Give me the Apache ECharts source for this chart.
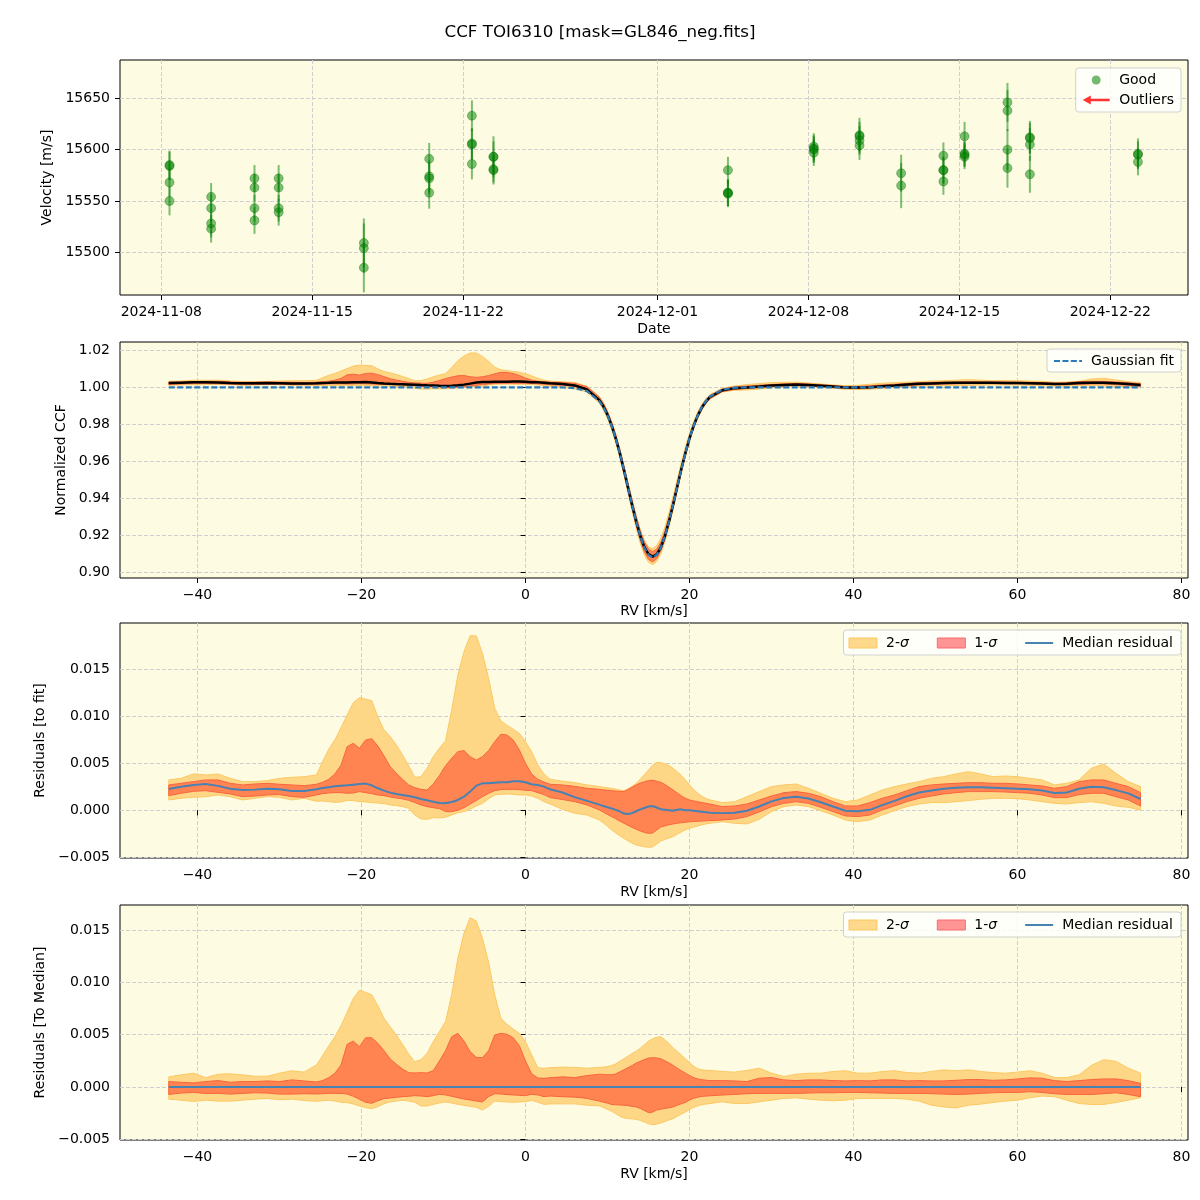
<!DOCTYPE html>
<html><head><meta charset="utf-8">
<script src="https://cdn.jsdelivr.net/npm/echarts@6/dist/echarts.min.js"></script>
<style>html,body{margin:0;padding:0;background:#fff}#chart{width:1200px;height:1200px}</style>
</head><body><div id="chart"></div>
<script>
// ---------- Panel 1: RV time series ----------
const obsTime = [
 '2024-11-08T09:07','2024-11-08T09:07','2024-11-08T09:07','2024-11-08T09:07',
 '2024-11-10T07:26','2024-11-10T07:26','2024-11-10T07:26','2024-11-10T07:26',
 '2024-11-12T07:41','2024-11-12T07:41','2024-11-12T07:41','2024-11-12T07:41',
 '2024-11-13T10:34','2024-11-13T10:34','2024-11-13T10:34','2024-11-13T10:34',
 '2024-11-17T09:22','2024-11-17T09:22','2024-11-17T09:22',
 '2024-11-20T10:05','2024-11-20T10:05','2024-11-20T10:05','2024-11-20T10:05',
 '2024-11-22T09:36','2024-11-22T09:36','2024-11-22T09:36','2024-11-22T09:36',
 '2024-11-23T09:36','2024-11-23T09:36','2024-11-23T09:36','2024-11-23T09:36',
 '2024-12-04T06:29','2024-12-04T06:29','2024-12-04T06:29','2024-12-04T06:29',
 '2024-12-08T06:00','2024-12-08T06:00','2024-12-08T06:00','2024-12-08T06:00',
 '2024-12-10T08:53','2024-12-10T08:53','2024-12-10T08:53','2024-12-10T08:53',
 '2024-12-12T07:12','2024-12-12T07:12',
 '2024-12-14T06:14','2024-12-14T06:14','2024-12-14T06:14','2024-12-14T06:14',
 '2024-12-15T05:46','2024-12-15T05:46','2024-12-15T05:46','2024-12-15T05:46',
 '2024-12-17T05:31','2024-12-17T05:31','2024-12-17T05:31','2024-12-17T05:31',
 '2024-12-18T06:29','2024-12-18T06:29','2024-12-18T06:29','2024-12-18T06:29',
 '2024-12-23T06:43','2024-12-23T06:43','2024-12-23T06:43'
];
const obsVel = [
 15585,15584,15568,15550,
 15554,15543,15528,15523,
 15572,15563,15543,15531,
 15572,15563,15543,15539,
 15509,15504,15485,
 15591,15574,15572,15558,
 15633,15606,15605,15586,
 15593,15593,15581,15580,
 15580,15558,15558,15557,
 15603,15601,15600,15597,
 15614,15613,15609,15604,
 15577,15565,
 15594,15580,15580,15569,
 15613,15596,15595,15593,
 15646,15638,15600,15582,
 15612,15611,15605,15576,
 15596,15595,15588
];
const obsErr = [
 14,14,14,14,
 13.5,13.5,13.5,13.5,
 13,13,13,13,
 13,13,13,13,
 24,24,24,
 15.5,15.5,15.5,15.5,
 15,15,15,15,
 20,15,13,14,
 13,13,13,13,
 13,13,13,13,
 17,14,14,14,
 18,22,
 13,13,13,13,
 14,12,12,12,
 19,20,20,19,
 16,15,16,18,
 15,13,13
];
const dateTicks = ['2024-11-08','2024-11-15','2024-11-22','2024-12-01','2024-12-08','2024-12-15','2024-12-22'];
const velTicks = [15500,15550,15600,15650];

// ---------- CCF panels ----------
const rvTicks = [-40,-20,0,20,40,60,80];
const ccfTicks = [0.90,0.92,0.94,0.96,0.98,1.00,1.02];
const resTicks = [-0.005,0,0.005,0.010,0.015];

const rv = [
 -43.5,-42,-40.5,-39,-37.5,-36,-34.5,-33,-31.5,-30,-28.5,-27,
 -25.5,-24.75,-24,-23.25,-22.5,-21.75,-21,-20.25,-19.5,-18.75,-18,-17.25,-16.5,-15.75,-15,-14.25,-13.5,-12.75,-12,-11.25,-10.5,-9.75,-9,-8.25,-7.5,-6.75,-6,-5.25,-4.5,-3.75,-3,-2.25,-1.5,-0.75,0,0.75,1.5,2.25,3,
 4.5,6,7.5,
 9,9.5,10,10.5,11,11.5,12,12.5,13,13.5,14,14.5,15,15.5,16,16.5,17,17.5,18,18.5,19,19.5,20,20.5,21,21.5,22,22.5,
 24,25.5,27,28.5,30,31.5,33,34.5,36,37.5,
 39,40.5,42,43.5,45,46.5,48,49.5,51,52.5,
 54,55.5,57,58.5,60,61.5,63,64.5,66,67.5,
 69,70.5,72,73.5,75
];
const gaussFit = [
 1,1,1,1,1,1,1,1,1,1,1,1,
 1,1,1,1,1,1,1,1,1,1,1,1,1,1,1,1,1,1,1,1,1,1,1,1,1,1,1,1,1,1,1,1,1,1,1,1,1,1,1,
 0.9999,0.9996,0.9979,
 0.9925,0.9892,0.9848,0.9792,0.9724,0.9645,0.9556,0.9461,0.9366,0.9275,0.9195,0.9133,0.9094,0.9080,0.9094,0.9133,0.9195,0.9275,0.9366,0.9461,0.9556,0.9645,0.9724,0.9792,0.9848,0.9892,0.9925,0.9950,
 0.9987,0.9998,1,1,1,1,1,1,1,1,
 1,1,1,1,1,1,1,1,1,1,
 1,1,1,1,1,1,1,1,1,1,
 1,1,1,1,1
];
// residuals to Gaussian fit
const resMedian = [
 0.00227,0.00250,0.00270,0.00280,0.00260,0.00230,0.00215,0.00220,0.00230,0.00225,0.00205,0.00205,
 0.00223,0.00238,0.00245,0.00255,0.00262,0.00266,0.00273,0.00280,0.00284,0.00266,0.00234,0.00209,0.00188,0.00174,0.00163,0.00152,0.00138,0.00121,0.00106,0.00092,0.00078,0.00074,0.00089,0.00110,0.00145,0.00199,0.00262,0.00287,0.00287,0.00294,0.00298,0.00298,0.00309,0.00309,0.00298,0.00277,0.00270,0.00252,0.00223,
 0.00190,0.00140,0.00100,
 0.00060,0.00045,0.00032,0.00020,0.00005,-0.00010,-0.00035,-0.00040,-0.00030,-0.00010,0.00010,0.00025,0.00040,0.00045,0.00030,0.00010,0.00005,0.00000,-0.00005,0.00005,0.00010,0.00000,0.00000,-0.00005,-0.00010,-0.00015,-0.00020,-0.00025,
 -0.00030,-0.00025,-0.00005,0.00040,0.00095,0.00130,0.00145,0.00125,0.00085,0.00040,
 -0.00005,-0.00010,0.00005,0.00055,0.00100,0.00150,0.00190,0.00210,0.00230,0.00240,
 0.00245,0.00245,0.00240,0.00235,0.00230,0.00225,0.00210,0.00185,0.00190,0.00230,
 0.00250,0.00245,0.00215,0.00180,0.00120
];
const res1Lo = [
 0.00156,0.00181,0.00202,0.00209,0.00191,0.00174,0.00145,0.00152,0.00163,0.00167,0.00145,0.00138,
 0.00163,0.00177,0.00184,0.00188,0.00188,0.00181,0.00184,0.00199,0.00188,0.00177,0.00163,0.00156,0.00142,0.00131,0.00121,0.00106,0.00082,0.00057,0.00039,0.00028,0.00018,-0.00014,-0.00014,0.00000,0.00028,0.00067,0.00103,0.00145,0.00181,0.00209,0.00220,0.00223,0.00223,0.00220,0.00213,0.00209,0.00188,0.00167,0.00135,
 0.00115,0.00092,0.00057,
 0.00004,-0.00020,-0.00045,-0.00067,-0.00090,-0.00115,-0.00138,-0.00160,-0.00182,-0.00202,-0.00220,-0.00235,-0.00245,-0.00242,-0.00210,-0.00177,-0.00165,-0.00155,-0.00145,-0.00138,-0.00132,-0.00128,-0.00122,-0.00119,-0.00117,-0.00114,-0.00112,-0.00110,
 -0.00103,-0.00092,-0.00067,-0.00018,0.00039,0.00074,0.00092,0.00074,0.00032,-0.00014,
 -0.00060,-0.00067,-0.00050,0.00004,0.00046,0.00092,0.00128,0.00152,0.00174,0.00188,
 0.00199,0.00199,0.00199,0.00195,0.00188,0.00181,0.00163,0.00135,0.00135,0.00167,
 0.00181,0.00181,0.00145,0.00110,0.00046
];
const res1Hi = [
 0.00270,0.00287,0.00305,0.00323,0.00323,0.00287,0.00270,0.00280,0.00287,0.00277,0.00270,0.00262,
 0.00277,0.00298,0.00330,0.00387,0.00479,0.00677,0.00713,0.00660,0.00748,0.00762,0.00684,0.00578,0.00465,0.00394,0.00330,0.00270,0.00241,0.00223,0.00216,0.00280,0.00369,0.00475,0.00553,0.00624,0.00635,0.00571,0.00535,0.00571,0.00635,0.00730,0.00809,0.00801,0.00748,0.00642,0.00500,0.00387,0.00330,0.00301,0.00277,
 0.00270,0.00255,0.00234,
 0.00223,0.00218,0.00213,0.00209,0.00205,0.00202,0.00199,0.00220,0.00245,0.00270,0.00290,0.00305,0.00316,0.00320,0.00310,0.00298,0.00275,0.00245,0.00216,0.00185,0.00155,0.00128,0.00110,0.00100,0.00092,0.00082,0.00075,0.00067,
 0.00039,0.00046,0.00067,0.00110,0.00152,0.00188,0.00199,0.00181,0.00145,0.00092,
 0.00046,0.00046,0.00082,0.00128,0.00163,0.00209,0.00252,0.00270,0.00280,0.00287,
 0.00294,0.00294,0.00287,0.00287,0.00280,0.00270,0.00259,0.00234,0.00252,0.00305,
 0.00323,0.00323,0.00287,0.00252,0.00188
];
const res2Lo = [
 0.00110,0.00128,0.00138,0.00145,0.00163,0.00145,0.00110,0.00128,0.00145,0.00138,0.00110,0.00128,
 0.00096,0.00099,0.00092,0.00085,0.00089,0.00106,0.00103,0.00092,0.00089,0.00082,0.00078,0.00071,0.00057,0.00050,0.00039,0.00021,-0.00050,-0.00092,-0.00096,-0.00078,-0.00082,-0.00074,-0.00050,-0.00025,-0.00014,0.00011,0.00046,0.00074,0.00121,0.00163,0.00170,0.00174,0.00170,0.00163,0.00163,0.00152,0.00128,0.00092,0.00067,
 0.00010,-0.00032,-0.00050,
 -0.00103,-0.00135,-0.00170,-0.00209,-0.00240,-0.00270,-0.00298,-0.00325,-0.00350,-0.00369,-0.00380,-0.00388,-0.00394,-0.00390,-0.00360,-0.00326,-0.00310,-0.00295,-0.00280,-0.00255,-0.00230,-0.00209,-0.00191,-0.00180,-0.00167,-0.00155,-0.00145,-0.00138,
 -0.00121,-0.00138,-0.00145,-0.00096,-0.00014,0.00039,0.00057,0.00039,-0.00004,-0.00050,
 -0.00103,-0.00121,-0.00103,-0.00050,-0.00004,0.00039,0.00067,0.00082,0.00082,0.00092,
 0.00103,0.00117,0.00128,0.00128,0.00124,0.00110,0.00092,0.00074,0.00067,0.00082,
 0.00092,0.00074,0.00046,0.00032,0.00004
];
const res2Hi = [
 0.00323,0.00340,0.00387,0.00376,0.00387,0.00340,0.00305,0.00305,0.00316,0.00340,0.00351,0.00358,
 0.00376,0.00518,0.00649,0.00748,0.00879,0.01014,0.01145,0.01199,0.01181,0.01167,0.00993,0.00855,0.00784,0.00695,0.00589,0.00475,0.00351,0.00358,0.00447,0.00571,0.00660,0.00741,0.01067,0.01440,0.01688,0.01858,0.01855,0.01670,0.01404,0.01085,0.00950,0.00904,0.00862,0.00819,0.00730,0.00624,0.00482,0.00387,0.00330,
 0.00310,0.00295,0.00270,
 0.00252,0.00245,0.00240,0.00234,0.00225,0.00215,0.00209,0.00230,0.00255,0.00287,0.00330,0.00380,0.00429,0.00480,0.00510,0.00507,0.00495,0.00475,0.00447,0.00410,0.00370,0.00323,0.00270,0.00225,0.00181,0.00150,0.00125,0.00110,
 0.00082,0.00092,0.00145,0.00199,0.00252,0.00270,0.00280,0.00234,0.00181,0.00128,
 0.00092,0.00110,0.00163,0.00216,0.00252,0.00280,0.00305,0.00340,0.00358,0.00387,
 0.00411,0.00387,0.00358,0.00365,0.00358,0.00340,0.00323,0.00270,0.00287,0.00323,
 0.00447,0.00493,0.00394,0.00305,0.00252
];
// residuals to median CCF
const medMedian = [
 0,0,0,0,0,0,0,0,0,0,0,0,
 0,0,0,0,0,0,0,0,0,0,0,0,0,0,0,0,0,0,0,0,0,0,0,0,0,0,0,0,0,0,0,0,0,0,0,0,0,0,0,
 0,0,0,
 0,0,0,0,0,0,0,0,0,0,0,0,0,0,0,0,0,0,0,0,0,0,0,0,0,0,0,0,
 0,0,0,0,0,0,0,0,0,0, 0,0,0,0,0,0,0,0,0,0, 0,0,0,0,0,0,0,0,0,0, 0,0,0,0,0
];
const med1Lo = [
 -0.00071,-0.00058,-0.00052,-0.00061,-0.00061,-0.00068,-0.00061,-0.00055,-0.00058,-0.00068,-0.00068,-0.00064,
 -0.00067,-0.00064,-0.00061,-0.00061,-0.00061,-0.00067,-0.00089,-0.00118,-0.00146,-0.00156,-0.00131,-0.00111,-0.00105,-0.00099,-0.00092,-0.00089,-0.00083,-0.00086,-0.00092,-0.00083,-0.00070,-0.00076,-0.00089,-0.00102,-0.00115,-0.00124,-0.00134,-0.00143,-0.00092,-0.00064,-0.00067,-0.00073,-0.00076,-0.00080,-0.00083,-0.00070,-0.00076,-0.00092,-0.00086,
 -0.00093,-0.00097,-0.00109,
 -0.00135,-0.00145,-0.00155,-0.00167,-0.00170,-0.00172,-0.00174,-0.00178,-0.00185,-0.00190,-0.00205,-0.00225,-0.00245,-0.00240,-0.00220,-0.00212,-0.00205,-0.00198,-0.00190,-0.00175,-0.00160,-0.00148,-0.00125,-0.00108,-0.00097,-0.00090,-0.00087,-0.00084,
 -0.00077,-0.00071,-0.00064,-0.00061,-0.00061,-0.00061,-0.00061,-0.00058,-0.00055,-0.00055,
 -0.00052,-0.00052,-0.00055,-0.00058,-0.00061,-0.00061,-0.00061,-0.00064,-0.00068,-0.00071,
 -0.00068,-0.00061,-0.00055,-0.00052,-0.00052,-0.00045,-0.00052,-0.00064,-0.00071,-0.00071,
 -0.00071,-0.00064,-0.00055,-0.00071,-0.00093
];
const med1Hi = [
 0.00052,0.00045,0.00039,0.00052,0.00061,0.00045,0.00052,0.00052,0.00058,0.00052,0.00068,0.00058,
 0.00048,0.00061,0.00089,0.00131,0.00210,0.00408,0.00439,0.00385,0.00471,0.00471,0.00417,0.00347,0.00268,0.00217,0.00172,0.00137,0.00134,0.00137,0.00134,0.00156,0.00248,0.00347,0.00481,0.00513,0.00439,0.00338,0.00283,0.00280,0.00347,0.00497,0.00513,0.00503,0.00471,0.00395,0.00248,0.00127,0.00086,0.00083,0.00089,
 0.00097,0.00090,0.00109,
 0.00122,0.00120,0.00118,0.00116,0.00125,0.00145,0.00164,0.00185,0.00205,0.00229,0.00245,0.00262,0.00277,0.00280,0.00278,0.00270,0.00250,0.00230,0.00206,0.00180,0.00155,0.00132,0.00110,0.00090,0.00077,0.00070,0.00065,0.00061,
 0.00061,0.00058,0.00052,0.00084,0.00090,0.00068,0.00061,0.00068,0.00068,0.00061,
 0.00058,0.00061,0.00058,0.00068,0.00068,0.00058,0.00061,0.00058,0.00058,0.00064,
 0.00071,0.00071,0.00064,0.00068,0.00077,0.00087,0.00084,0.00061,0.00052,0.00061,
 0.00071,0.00077,0.00077,0.00061,0.00035
];
const med2Lo = [
 -0.00116,-0.00126,-0.00138,-0.00126,-0.00135,-0.00135,-0.00126,-0.00116,-0.00109,-0.00122,-0.00116,-0.00129,
 -0.00137,-0.00131,-0.00127,-0.00134,-0.00146,-0.00150,-0.00162,-0.00182,-0.00197,-0.00207,-0.00188,-0.00159,-0.00143,-0.00134,-0.00127,-0.00134,-0.00146,-0.00182,-0.00182,-0.00166,-0.00153,-0.00143,-0.00153,-0.00166,-0.00175,-0.00185,-0.00194,-0.00220,-0.00185,-0.00134,-0.00140,-0.00143,-0.00146,-0.00143,-0.00140,-0.00127,-0.00146,-0.00166,-0.00162,
 -0.00161,-0.00161,-0.00174,
 -0.00180,-0.00195,-0.00215,-0.00232,-0.00255,-0.00280,-0.00296,-0.00300,-0.00305,-0.00309,-0.00320,-0.00335,-0.00351,-0.00360,-0.00355,-0.00344,-0.00330,-0.00315,-0.00303,-0.00280,-0.00260,-0.00238,-0.00215,-0.00195,-0.00180,-0.00170,-0.00163,-0.00158,
 -0.00142,-0.00158,-0.00158,-0.00142,-0.00126,-0.00109,-0.00103,-0.00116,-0.00126,-0.00132,
 -0.00126,-0.00109,-0.00109,-0.00109,-0.00109,-0.00116,-0.00135,-0.00174,-0.00190,-0.00200,
 -0.00174,-0.00164,-0.00148,-0.00135,-0.00126,-0.00103,-0.00087,-0.00093,-0.00126,-0.00158,
 -0.00167,-0.00167,-0.00148,-0.00126,-0.00103
];
const med2Hi = [
 0.00097,0.00116,0.00132,0.00090,0.00122,0.00126,0.00116,0.00103,0.00103,0.00132,0.00155,0.00142,
 0.00210,0.00299,0.00392,0.00481,0.00586,0.00713,0.00847,0.00924,0.00904,0.00882,0.00777,0.00656,0.00576,0.00497,0.00408,0.00315,0.00242,0.00261,0.00322,0.00433,0.00529,0.00624,0.00885,0.01229,0.01468,0.01618,0.01586,0.01420,0.01191,0.00879,0.00656,0.00599,0.00554,0.00513,0.00433,0.00306,0.00185,0.00178,0.00185,
 0.00190,0.00187,0.00180,
 0.00187,0.00190,0.00195,0.00206,0.00220,0.00245,0.00270,0.00295,0.00320,0.00341,0.00370,0.00405,0.00438,0.00460,0.00475,0.00480,0.00450,0.00415,0.00373,0.00340,0.00305,0.00270,0.00230,0.00200,0.00174,0.00165,0.00160,0.00158,
 0.00148,0.00142,0.00158,0.00180,0.00132,0.00100,0.00122,0.00132,0.00132,0.00148,
 0.00155,0.00132,0.00132,0.00148,0.00155,0.00138,0.00132,0.00148,0.00164,0.00155,
 0.00164,0.00148,0.00138,0.00132,0.00142,0.00155,0.00132,0.00090,0.00090,0.00116,
 0.00206,0.00261,0.00245,0.00180,0.00132
];

// ---------- styles ----------
const FONT = 'DejaVu Sans';
const BG = '#fdfce2';
const GRIDLINE = {show:true, lineStyle:{color:'#cfcfcf', width:1, type:[4,2]}};
const C2_FILL = '#fed786', C2_EDGE = '#fdc862';
const C1_FILL = '#ff8452', C1_EDGE = '#f8653f';
const MED_COLOR = '#4682b4';
const FIT_COLOR = '#2b7bba';

const toMs = s => Date.parse(s + ':00Z');
const dayMs = s => Date.parse(s + 'T00:00:00Z');
const pad = n => (n < 10 ? '0' : '') + n;
const fmtDate = v => { const d = new Date(v); return d.getUTCFullYear() + '-' + pad(d.getUTCMonth() + 1) + '-' + pad(d.getUTCDate()); };
const minus = s => String(s).replace('-', '\u2212');

function axisBase(gridIndex, ticks, formatter, name, nameGap, min, max) {
  return {
    type: 'value', gridIndex, min, max, scale: true,
    name, nameLocation: 'middle', nameGap,
    nameTextStyle: {fontFamily: FONT, fontSize: 14, color: '#000'},
    axisLine: {show: false},
    axisTick: {show: true, length: 5, inside: false, customValues: ticks, lineStyle: {color: '#000', width: 1}},
    axisLabel: {customValues: ticks, formatter, fontFamily: FONT, fontSize: 14, color: '#000', margin: 10},
    splitLine: Object.assign({}, GRIDLINE),
  };
}

const dateTickMs = dateTicks.map(dayMs);
const xAxes = [
  axisBase(0, dateTickMs, fmtDate, 'Date', 27, toMs('2024-11-06T02:02'), toMs('2024-12-25T14:24')),
  axisBase(1, rvTicks, v => minus(v), 'RV [km/s]', 26, -49.45, 80.79),
  axisBase(2, rvTicks, v => minus(v), 'RV [km/s]', 27, -49.45, 80.79),
  axisBase(3, rvTicks, v => minus(v), 'RV [km/s]', 27, -49.45, 80.79),
];
const yAxes = [
  axisBase(0, velTicks, v => String(v), 'Velocity [m/s]', 59, 15458.4, 15687.3),
  axisBase(1, ccfTicks, v => v.toFixed(2), 'Normalized CCF', 46, 0.89692, 1.02449),
  axisBase(2, resTicks, v => minus(v.toFixed(3)), 'Residuals [to fit]', 66, -0.005074, 0.019926),
  axisBase(3, resTicks, v => minus(v.toFixed(3)), 'Residuals [To Median]', 66, -0.005064, 0.017388),
];

function band(name, idx, lo, hi, fill, stroke, z) {
  return {
    type: 'custom', name, xAxisIndex: idx, yAxisIndex: idx, z, silent: true,
    itemStyle: {color: fill},
    data: [[rv[0], lo[0]]],
    renderItem: (params, api) => {
      const pts = [];
      for (let i = 0; i < rv.length; i++) pts.push(api.coord([rv[i], hi[i]]));
      for (let i = rv.length - 1; i >= 0; i--) pts.push(api.coord([rv[i], lo[i]]));
      return {type: 'polygon', shape: {points: pts}, style: {fill, stroke, lineWidth: 1}};
    }
  };
}
function line(name, idx, ys, color, width, type, z) {
  return {
    type: 'line', name, xAxisIndex: idx, yAxisIndex: idx, z, silent: true,
    symbol: 'none', showSymbol: false,
    data: rv.map((x, i) => [x, ys[i]]),
    lineStyle: {color, width, type},
    itemStyle: {color},
  };
}

const ccfMedian = rv.map((x, i) => gaussFit[i] + resMedian[i]);
const ccf1Lo = rv.map((x, i) => gaussFit[i] + res1Lo[i]);
const ccf1Hi = rv.map((x, i) => gaussFit[i] + res1Hi[i]);
const ccf2Lo = rv.map((x, i) => gaussFit[i] + res2Lo[i]);
const ccf2Hi = rv.map((x, i) => gaussFit[i] + res2Hi[i]);

const series = [
  {
    type: 'custom', name: 'errbars', xAxisIndex: 0, yAxisIndex: 0, z: 2, silent: true, clip: true,
    data: obsTime.map((t, i) => [toMs(t), obsVel[i], obsErr[i]]),
    encode: {x: 0, y: 1},
    renderItem: (params, api) => {
      const x = api.value(0), v = api.value(1), e = api.value(2);
      const p1 = api.coord([x, v - e]), p2 = api.coord([x, v + e]);
      return {type: 'line', shape: {x1: p1[0], y1: p1[1], x2: p2[0], y2: p2[1]},
              style: {stroke: 'rgba(0,128,0,0.5)', lineWidth: 2}};
    }
  },
  {
    type: 'scatter', name: 'Good', xAxisIndex: 0, yAxisIndex: 0, z: 3, silent: true,
    symbol: 'circle', symbolSize: 9,
    data: obsTime.map((t, i) => [toMs(t), obsVel[i]]),
    itemStyle: {color: 'rgba(0,128,0,0.5)', borderColor: 'rgba(0,110,0,0.35)', borderWidth: 1, opacity: 1},
  },
  {type: 'scatter', name: 'Outliers', xAxisIndex: 0, yAxisIndex: 0, data: [], itemStyle: {color: '#ff0000'}},

  band('ccf2', 1, ccf2Lo, ccf2Hi, C2_FILL, C2_EDGE, 2),
  band('ccf1', 1, ccf1Lo, ccf1Hi, C1_FILL, C1_EDGE, 3),
  line('Median CCF', 1, ccfMedian, '#000000', 2.5, 'solid', 4),
  line('Gaussian fit', 1, gaussFit, FIT_COLOR, 2.2, [6, 2.5], 5),

  band('2-σ', 2, res2Lo, res2Hi, C2_FILL, C2_EDGE, 2),
  band('1-σ', 2, res1Lo, res1Hi, C1_FILL, C1_EDGE, 3),
  line('Median residual', 2, resMedian, MED_COLOR, 2, 'solid', 4),

  band('2-σ', 3, med2Lo, med2Hi, C2_FILL, C2_EDGE, 2),
  band('1-σ', 3, med1Lo, med1Hi, C1_FILL, C1_EDGE, 3),
  line('Median residual', 3, medMedian, MED_COLOR, 2, 'solid', 4),
];

const ICON_LINE = 'path://M0,0 L0.01,0 L0,0.01 Z M0,4 L30,4 L30,6 L0,6 Z M0,10 L0.01,10 L0,9.99 Z';
const ICON_DASH = 'path://M0,0 L0.01,0 L0,0.01 Z M0,4h6.5v2h-6.5z M9,4h6.5v2h-6.5z M18,4h6.5v2h-6.5z M27,4h3v2h-3z M0,10 L0.01,10 L0,9.99 Z';
const ICON_ARROW = 'path://M0,5 L9,0 L9,3.6 L30,3.6 L30,6.4 L9,6.4 L9,10 Z';

const legendText = {fontFamily: FONT, fontSize: 14, color: '#000', padding: [0, 0, 0, 4],
  rich: {n: {fontFamily: FONT, fontSize: 14, color: '#000'}, s: {fontFamily: FONT, fontSize: 14, fontStyle: 'italic', color: '#000'}}};
const legendBox = {backgroundColor: 'rgba(255,255,255,0.8)', borderColor: '#d0d0d0', borderWidth: 1, borderRadius: 3};
const sigmaFmt = name => name === '2-σ' ? '{n|2-}{s|σ}' : name === '1-σ' ? '{n|1-}{s|σ}' : name;
function sigmaLegend(top) {
  return Object.assign({
    right: 19, top, orient: 'horizontal', itemWidth: 28, itemHeight: 10, itemGap: 28,
    padding: [6, 8, 5, 5], selectedMode: false, textStyle: legendText, formatter: sigmaFmt,
    data: [
      {name: '2-σ', icon: 'rect', itemStyle: {color: '#fed98b', borderColor: '#fcc85f', borderWidth: 1}},
      {name: '1-σ', icon: 'rect', itemStyle: {color: '#fe9494', borderColor: '#f86b6b', borderWidth: 1}},
      {name: 'Median residual', icon: ICON_LINE, itemStyle: {color: MED_COLOR, borderWidth: 0}}
    ]
  }, legendBox);
}

const option = {
  animation: false,
  backgroundColor: '#ffffff',
  textStyle: {fontFamily: FONT},
  title: {text: 'CCF TOI6310 [mask=GL846_neg.fits]', left: 'center', top: 24, padding: 0,
          textStyle: {fontFamily: FONT, fontSize: 16.7, fontWeight: 'normal', color: '#000'}},
  grid: [
    {left: 120, top: 60, width: 1068, height: 235},
    {left: 120, top: 342, width: 1068, height: 236},
    {left: 120, top: 623, width: 1068, height: 235},
    {left: 120, top: 905, width: 1068, height: 235},
  ].map(g => Object.assign(g, {show: true, backgroundColor: BG, borderColor: '#000', borderWidth: 1, containLabel: false})),
  xAxis: xAxes,
  yAxis: yAxes,
  legend: [
    Object.assign({
      right: 19, top: 68, orient: 'vertical', itemWidth: 28, itemHeight: 9, itemGap: 6,
      padding: [5, 7, 5, 7], selectedMode: false, textStyle: legendText,
      data: [
        {name: 'Good', icon: 'circle', itemStyle: {color: 'rgba(0,128,0,0.55)', borderWidth: 0}},
        {name: 'Outliers', icon: ICON_ARROW, itemStyle: {color: '#ff0000', borderWidth: 0}}
      ]
    }, legendBox),
    Object.assign({
      right: 19, top: 349, orient: 'vertical', itemWidth: 28, itemHeight: 10,
      padding: [5, 7, 4, 7], selectedMode: false, textStyle: legendText,
      data: [{name: 'Gaussian fit', icon: ICON_DASH, itemStyle: {color: FIT_COLOR, borderWidth: 0}}]
    }, legendBox),
    sigmaLegend(630),
    sigmaLegend(912),
  ],
  series,
};

const chart = echarts.init(document.getElementById('chart'), null, {renderer: 'canvas', width: 1200, height: 1200});
chart.setOption(option);
</script>
</body></html>
